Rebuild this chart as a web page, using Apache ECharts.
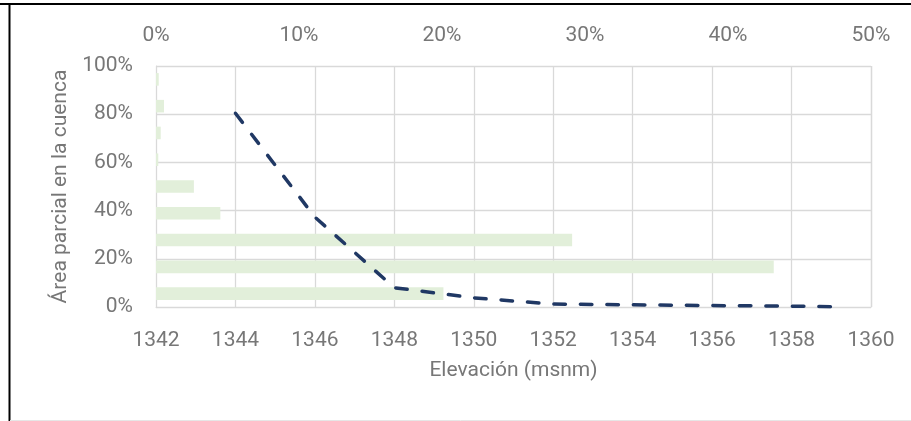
<!DOCTYPE html>
<html>
<head>
<meta charset="utf-8">
<script src="https://cdn.jsdelivr.net/npm/echarts@6/dist/echarts.min.js"></script>
<style>
  html, body { margin: 0; padding: 0; background: #fff; }
  #chart { width: 911px; height: 421px; }
</style>
</head>
<body>
<div id="chart"></div>
<script>
// Elevation bands (2 m each), bottom to top
const bands = ['1342-1344', '1344-1346', '1346-1348', '1348-1350', '1350-1352',
               '1352-1354', '1354-1356', '1356-1358', '1358-1360'];
// Share of basin area in each band (fraction, top axis)
const bandShare = [0.201, 0.432, 0.291, 0.045, 0.0265, 0.0016, 0.0033, 0.0056, 0.0019];

// Curve: elevation (msnm) vs. partial area (fraction)
const curveElev = [1344, 1346, 1348, 1350, 1352, 1354, 1356, 1358, 1359];
const curveArea = [0.804, 0.373, 0.080, 0.038, 0.012, 0.009, 0.006, 0.0035, 0.0012];

// Tick settings
const elevMin = 1342, elevMax = 1360, elevStep = 2;
const shareMax = 0.5, shareStep = 0.1;
const areaMax = 1, areaStep = 0.2;

const FONT = "Roboto, 'Liberation Sans', sans-serif";
const FS = 21;
const TXT = '#777777';
const GRID = '#d9d9d9';
const pct = v => Math.round(v * 100) + '%';

const chart = echarts.init(document.getElementById('chart'));
chart.setOption({
  animation: false,
  backgroundColor: '#fff',
  textStyle: { fontFamily: FONT },
  grid: { left: 156, right: 40, top: 66, bottom: 114, containLabel: false },
  xAxis: [
    {
      type: 'value', position: 'bottom', min: elevMin, max: elevMax, interval: elevStep,
      name: 'Elevación (msnm)', nameLocation: 'middle', nameGap: 53,
      nameTextStyle: { color: TXT, fontSize: FS, fontFamily: FONT },
      axisLine: { show: true, lineStyle: { color: GRID, width: 1 } },
      axisTick: { show: false },
      axisLabel: { color: TXT, fontSize: FS, fontFamily: FONT, margin: 23, formatter: v => String(v) },
      splitLine: { show: true, lineStyle: { color: GRID, width: 1.3 } }
    },
    {
      type: 'value', position: 'top', min: 0, max: shareMax, interval: shareStep,
      axisLine: { show: false },
      axisTick: { show: false },
      axisLabel: { color: TXT, fontSize: FS, fontFamily: FONT, margin: 20, formatter: pct },
      splitLine: { show: false }
    }
  ],
  yAxis: [
    {
      type: 'value', position: 'left', min: 0, max: areaMax, interval: areaStep,
      name: 'Área parcial en la cuenca', nameLocation: 'middle', nameGap: 84,
      nameTextStyle: { color: TXT, fontSize: FS, fontFamily: FONT },
      axisLine: { show: true, lineStyle: { color: GRID, width: 1 } },
      axisTick: { show: false },
      axisLabel: { color: TXT, fontSize: FS, fontFamily: FONT, margin: 23, formatter: pct },
      splitLine: { show: true, lineStyle: { color: GRID, width: 1.3 } }
    },
    {
      type: 'category', position: 'right', data: bands,
      axisLine: { show: false }, axisTick: { show: false },
      axisLabel: { show: false }, splitLine: { show: false }
    }
  ],
  graphic: [
    { type: 'line', shape: { x1: 0, y1: 4, x2: 911, y2: 4 }, style: { stroke: '#000', lineWidth: 2 }, z: 100 },
    { type: 'line', shape: { x1: 9.5, y1: 3, x2: 9.5, y2: 421 }, style: { stroke: '#000', lineWidth: 2 }, z: 100 },
    { type: 'line', shape: { x1: 10, y1: 420.5, x2: 911, y2: 420.5 }, style: { stroke: '#e6e6e6', lineWidth: 1 }, z: 100 },
    { type: 'line', shape: { x1: 871.5, y1: 66, x2: 871.5, y2: 307 }, style: { stroke: GRID, lineWidth: 1.3 }, z: 1 }
  ],
  series: [
    {
      type: 'bar', xAxisIndex: 1, yAxisIndex: 1,
      data: bandShare, barCategoryGap: '53%',
      itemStyle: { color: '#e2efda' }, z: 2
    },
    {
      type: 'line', xAxisIndex: 0, yAxisIndex: 0,
      data: curveElev.map((e, i) => [e, curveArea[i]]),
      showSymbol: false, symbol: 'none',
      lineStyle: { color: '#203864', width: 3.5, type: [11.5, 15], cap: 'round' },
      z: 3
    }
  ]
});
</script>
</body>
</html>
